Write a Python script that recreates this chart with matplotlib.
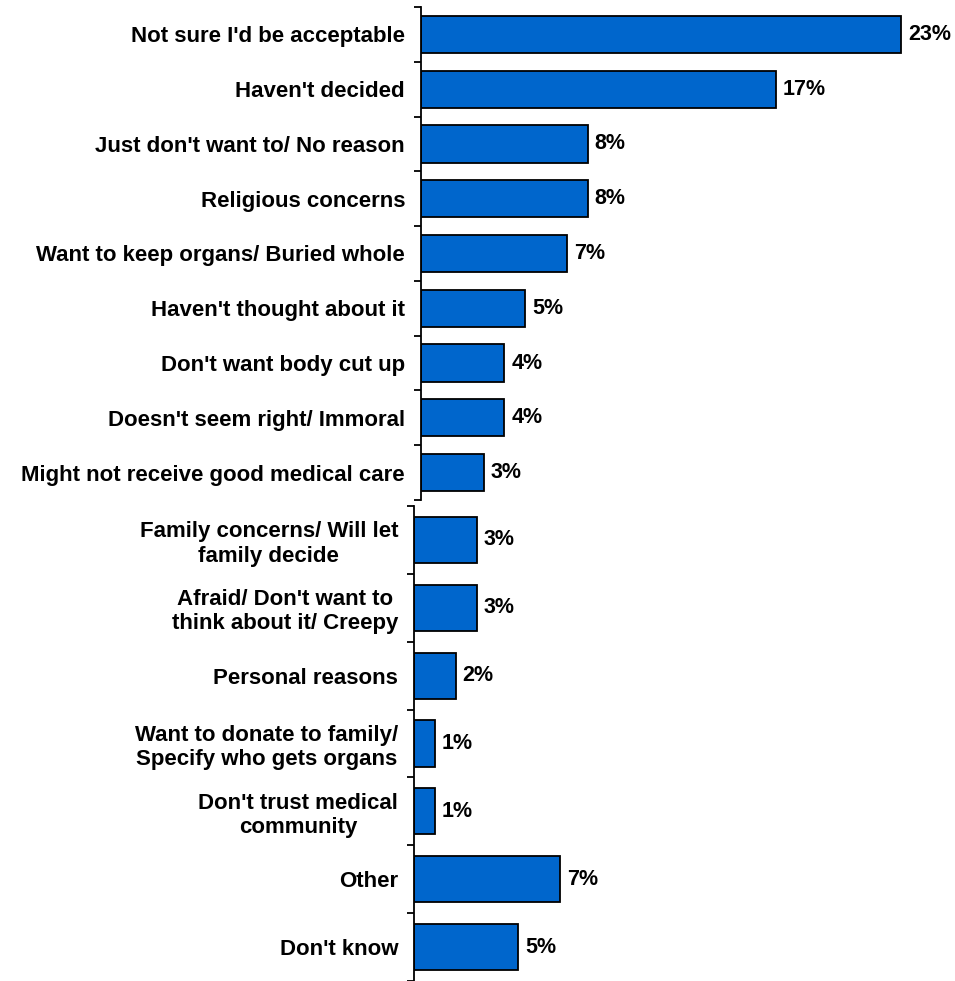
import numpy as np
import matplotlib.pyplot as plt

top_labels = ["Not sure I'd be acceptable", "Haven't decided", "Just don't want to/ No reason",
              "Religious concerns", "Want to keep organs/ Buried whole", "Haven't thought about it",
              "Don't want body cut up", "Doesn't seem right/ Immoral", "Might not receive good medical care"]
top_values = [23, 17, 8, 8, 7, 5, 4, 4, 3]

bottom_labels = ["Family concerns/ Will let\nfamily decide", "Afraid/ Don't want to\nthink about it/ Creepy",
                 "Personal reasons", "Want to donate to family/\nSpecify who gets organs",
                 "Don't trust medical\ncommunity", "Other", "Don't know"]
bottom_values = [3, 3, 2, 1, 1, 7, 5]

plt.rcParams['font.family'] = ['Liberation Sans', 'DejaVu Sans']

W, H = 955, 981
fig = plt.figure(figsize=(W / 100, H / 100), dpi=100)

px_per_pct = 20.87
bar_color = "#0066CC"


def panel(x0, y_top, y_bot, labels, values):
    width_px = W - x0
    ax = fig.add_axes([x0 / W, 1 - y_bot / H, width_px / W, (y_bot - y_top) / H])
    n = len(labels)
    y = np.arange(n)
    ax.barh(y, values, height=0.68, color=bar_color, edgecolor="black", linewidth=1.3)
    ax.set_ylim(n - 0.5, -0.5)
    ax.set_xlim(0, width_px / px_per_pct)
    ax.set_yticks(y)
    ax.set_yticklabels(labels, fontsize=16, fontweight="bold", multialignment="center")
    ax.set_yticks(np.arange(n + 1) - 0.5, minor=True)
    ax.tick_params(axis="y", which="major", length=0, pad=11.5)
    ax.tick_params(axis="y", which="minor", length=5, width=1.3, direction="out")
    ax.set_xticks([])
    for s in ["top", "right", "bottom"]:
        ax.spines[s].set_visible(False)
    ax.spines["left"].set_linewidth(1.3)
    for yi, v in zip(y, values):
        ax.text(v + 0.33, yi, f"{v}%", va="center", ha="left", fontsize=15.5, fontweight="bold")
    return ax


panel(421, 7, 500, top_labels, top_values)
panel(414, 506, 981, bottom_labels, bottom_values)

fig.savefig("out.png", dpi=100)
